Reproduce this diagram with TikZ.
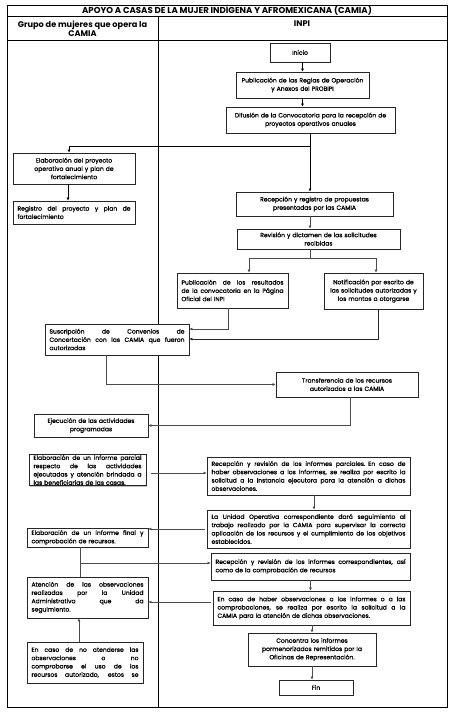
\documentclass[tikz,border=0pt]{standalone}
\usepackage{fontspec}
\setmainfont{Poppins}
\newfontfamily\bxfont{Poppins}[FakeBold=1.0]
\usetikzlibrary{arrows.meta,shadows}
\setlength{\parindent}{0pt}
\newcommand{\jl}[1]{\makebox[\hsize][s]{\spaceskip=\fontdimen2\font plus 1fil minus 0.4\fontdimen2\font\relax #1}}
\newcommand{\bx}[7]{%
  \node[box,align=#6,text width={#4-#2-9},minimum height={#5-#3}]
    (#1) at ({(#2+#4)/2},{-(#3+#5)/2}) {#7};}
\begin{document}
\begin{tikzpicture}[x=1pt,y=1pt,
  box/.style={draw=black!85,line width=0.9pt,fill=white,inner xsep=4.5pt,inner ysep=1pt,
    font=\bxfont\fontsize{6.05}{8.3}\selectfont,
    drop shadow={shadow xshift=0.9pt,shadow yshift=-0.9pt,fill=black!50}},
  conn/.style={draw=black!70,line width=0.6pt},
  arr/.style={conn,-{Latex[length=3pt,width=3pt]}},
  hdr/.style={font=\bfseries\fontsize{8.2}{9.2}\selectfont,align=center,inner sep=0pt},
  ttl/.style={font=\bfseries\fontsize{8.6}{9}\selectfont,inner sep=0pt},
  frame/.style={line width=0.9pt,draw=black}
]
\useasboundingbox (0,0) rectangle (452,-713);
\fill[white] (0,0) rectangle (452,-713);
% frame
\draw[frame] (7,-5) rectangle (447,-707);
\draw[frame] (7,-16) -- (447,-16);
\draw[frame] (7,-40) -- (447,-40);
\draw[frame] (158,-16) -- (158,-707);
\node[ttl] (title) at (227,-10.5) {APOYO A CASAS DE LA MUJER INDÍGENA Y AFROMEXICANA (CAMIA)};
\node[hdr] (h1) at (82.5,-28.5) {Grupo de mujeres que opera la\\CAMIA};
\node[hdr] (h2) at (302,-24) {INPI};

% boxes
\bx{inicio}{270}{43}{330}{62}{center}{Inicio}
\bx{pub}{236}{72}{369}{98}{center}{Publicación de las Reglas de Operación\\y Anexos del PROBIPI}
\bx{dif}{226}{107}{395}{133}{center}{Difusión de la Convocatoria para la recepción de\\proyectos operativos anuales}
\bx{elab}{13}{153}{135}{184}{center}{Elaboración del proyecto\\operativo anual y plan de\\fortalecimiento}
\bx{reg}{13}{201}{135}{224}{left}{\jl{Registro del proyecto y plan de}\\fortalecimiento}
\bx{rec}{236}{192}{393}{216}{center}{Recepción y registro de propuestas\\presentadas por las CAMIA}
\bx{rev}{237}{229}{400}{249}{center}{Revisión y dictamen de las solicitudes\\recibidas}
\bx{pubr}{177}{273}{288}{308}{left}{\jl{Publicación de los resultados}\\\jl{de la convocatoria en la Página}\\Oficial del INPI}
\bx{notif}{324}{273}{423}{309}{center}{Notificación por escrito de\\las solicitudes autorizadas y\\los montos a otorgarse}
\bx{susc}{45}{324}{189}{355}{left}{\jl{Suscripción de Convenios de}\\\jl{Concertación con las CAMIA que fueron}\\autorizadas}
\bx{trans}{276}{372}{418}{397}{center}{Transferencia de los recursos\\autorizados a las CAMIA}
\bx{ejec}{34}{414}{148}{437}{center}{Ejecución de las actividades\\programadas}
\bx{parcial}{29}{457}{146}{483}{left}{\jl{Elaboración de un informe parcial}\\\jl{respecto de las actividades}\\\jl{ejecutadas y atención brindada a}\\las beneficiarias de las casas.}
\bx{recparc}{207}{457}{410}{495}{left}{\jl{Recepción y revisión de los informes parciales. En caso de}\\\jl{haber observaciones a los informes, se realiza por escrito la}\\\jl{solicitud a la instancia ejecutora para la atención a dichas}\\observaciones.}
\bx{unidad}{207}{510}{410}{548}{left}{\jl{La Unidad Operativa correspondiente dará seguimiento al}\\\jl{trabajo realizado por la CAMIA para supervisar la correcta}\\\jl{aplicación de los recursos y el cumplimiento de los objetivos}\\establecidos.}
\bx{final}{27}{528}{148}{547}{left}{\jl{Elaboración de un informe final y}\\comprobación de recursos.}
\bx{reccorr}{211}{553}{410}{580}{left}{\jl{Recepción y revisión de los informes correspondientes, así}\\como de la comprobación de recursos}
\bx{encaso}{213}{591}{410}{625}{left}{\jl{En caso de haber observaciones a los informes o a las}\\\jl{comprobaciones, se realiza por escrito la solicitud a la}\\CAMIA para la atención de dichas observaciones.}
\bx{atencion}{27}{577}{148}{618}{left}{\jl{Atención de las observaciones}\\\jl{realizadas por la Unidad}\\\jl{Administrativa que da}\\seguimiento.}
\bx{noaten}{27}{642}{143}{683}{left}{\jl{En caso de no atenderse las}\\\jl{observaciones o no}\\\jl{comprobarse el uso de los}\\\jl{recursos autorizado, estos se}}
\bx{conc}{248}{633}{376}{666}{center}{Concentra los informes\\pormenorizados remitidos por la\\Oficinas de Representación.}
\bx{fin}{279}{680}{353}{695}{center}{Fin}

% helper levels
\coordinate (j1) at (310,-146);
\coordinate (j2) at (310,-258);
\coordinate (j3) at (80,-563);
\coordinate (x68) at (68,0);
\coordinate (x69) at (69,0);
\coordinate (x79) at (79,0);
\coordinate (x80) at (80,0);
\coordinate (x106) at (106,0);
\coordinate (x228) at (228,0);
\coordinate (x249) at (249,0);
\coordinate (x314) at (314,0);
\coordinate (x350) at (350,0);
\coordinate (x376) at (376,0);
\coordinate (x378) at (378,0);
\coordinate (y329) at (0,-329);
\coordinate (y339) at (0,-339);
\coordinate (y473) at (0,-473);
\coordinate (y602) at (0,-602);

% connectors
\draw[arr,draw=black] (pub.north |- inicio.south) -- (pub.north);
\draw[arr,draw=black] (pub.south) -- (pub.south |- dif.north);
\draw[conn,draw=black] (dif.south -| j1) -- (j1);
\draw[arr,draw=black] (j1) -| (elab.north -| x69);
\draw[arr,draw=black] (j1) -- (j1 |- rec.north);
\draw[arr,draw=black] (elab.south -| x68) -- (reg.north -| x68);
\draw[arr] (rec.south -| j2) -- (rev.north -| j2);
\draw[conn] (rev.south -| j2) -- (j2);
\draw[arr] (j2) -| (pubr.north -| x249);
\draw[arr] (j2) -| (notif.north -| x376);
\draw[arr] (pubr.south -| x228) |- (susc.east |- y329);
\draw[arr,draw=black!85] (notif.south -| x378) |- (susc.east |- y339);
\draw[arr] (susc.south -| x106) |- (trans.west);
\draw[arr] (trans.south -| x350) |- (ejec.east);
\draw[arr,shorten <=5pt] (parcial.east |- y473) -- (recparc.west |- y473);
\draw[arr] (recparc.south -| x314) -- (unidad.north -| x314);
\draw[arr,shorten <=2pt] (unidad.west) -- (unidad.west -| final.east);
\draw[conn] (final.south -| x80) -- (atencion.north -| x80);
\draw[arr] (j3) -- (j3 -| reccorr.west);
\draw[arr] (reccorr.south) -- (reccorr.south |- encaso.north);
\draw[arr,shorten <=2pt] (encaso.west |- y602) -- (atencion.east |- y602);
\draw[arr] (noaten.north -| x79) -- (atencion.south -| x79);
\draw[arr] (encaso.south -| conc.north) -- (conc.north);
\draw[arr] (conc.south) -- (conc.south |- fin.north);
\end{tikzpicture}
\end{document}
